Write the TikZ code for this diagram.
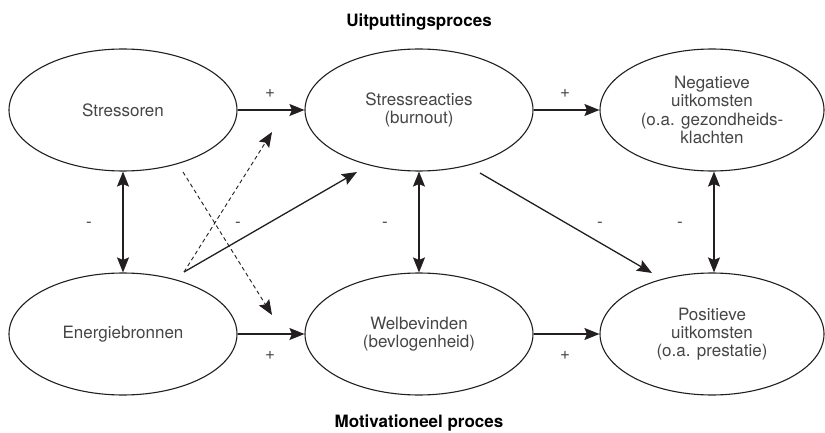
\documentclass[tikz,border=0pt]{standalone}
\usepackage{fontspec}
\setmainfont{TeX Gyre Heros}
\usetikzlibrary{arrows.meta,shapes.geometric}
\definecolor{ink}{HTML}{231F20}
\definecolor{txt}{HTML}{454545}
\tikzset{
  tip/.tip={Stealth[length=15pt,width=12pt,inset=2.5pt]},
  blob/.style={ellipse, draw=ink, line width=1.1pt, inner sep=0pt,
    minimum width=228pt, minimum height=122pt, align=center, text=txt,
    font=\fontsize{17}{18.3}\selectfont},
  edgeblob/.style={blob, minimum width=224pt},
  link/.style={draw=ink, line width=1.3pt, -tip},
  duo/.style={link, tip-tip},
  dashlink/.style={link, line width=0.9pt, dash pattern=on 4pt off 3pt},
  sign/.style={text=txt, font=\fontsize{17}{18}\selectfont, inner sep=0pt},
  heading/.style={text=black, font=\bfseries\fontsize{17}{18}\selectfont, inner sep=0pt}
}
\begin{document}
\begin{tikzpicture}[x=1pt,y=-1pt]
\useasboundingbox (0,0) rectangle (825,433);

% headings
\node[heading] (h1) at (419,22) {Uitputtingsproces};
\node[heading] (h2) at (419,423) {Motivationeel proces};

% top row: exhaustion process
\node[blob] (str) at (123,110) {Stressoren};
\node[blob] (rea) at (419,110) {Stressreacties\\(burnout)};
\node[edgeblob] (neg) at (712,110) {Negatieve\\uitkomsten\\(o.a. gezondheids-\\klachten};

% bottom row: motivational process
\node[blob] (eng) at (123,334) {Energiebronnen};
\node[blob] (wel) at (419,334) {Welbevinden\\(bevlogenheid)};
\node[edgeblob] (pos) at (712,334) {Positieve\\uitkomsten\\(o.a. prestatie)};

% free ends of the diagonal connectors
\coordinate (fan) at (184,272);
\coordinate (fanA) at (357,172);
\coordinate (dashTop) at (272,132);
\coordinate (dashStart) at (183,172);
\coordinate (dashBot) at (272,315);
\coordinate (reaOut) at (480,173);
\coordinate (posIn) at (652,273);

% horizontal connectors
\draw[link] (str) -- (rea);
\draw[link] (rea) -- (neg);
\draw[link] (eng) -- (wel);
\draw[link] (wel) -- (pos);

% vertical two-way connectors
\draw[duo] (str.south) -- (eng.north);
\draw[duo] (rea.south) -- (wel.north);
\draw[duo] ([xshift=2pt]neg.south) -- ([xshift=2pt]pos.north);

% diagonal connectors
\draw[link] (fan) -- (fanA);
\draw[link] (reaOut) -- (posIn);
\draw[dashlink] (fan) -- (dashTop);
\draw[dashlink] (dashStart) -- (dashBot);

% signs
\node[sign] (p1) at (270,93) {+};
\node[sign] (p2) at (565,93) {+};
\node[sign] (p3) at (270,355) {+};
\node[sign] (p4) at (565,355) {+};
\node[sign] (m1) at (89,225) {-};
\node[sign] (m2) at (238,225) {-};
\node[sign] (m3) at (385,225) {-};
\node[sign] (m4) at (600,225) {-};
\node[sign] (m5) at (680,225) {-};
\end{tikzpicture}
\end{document}
